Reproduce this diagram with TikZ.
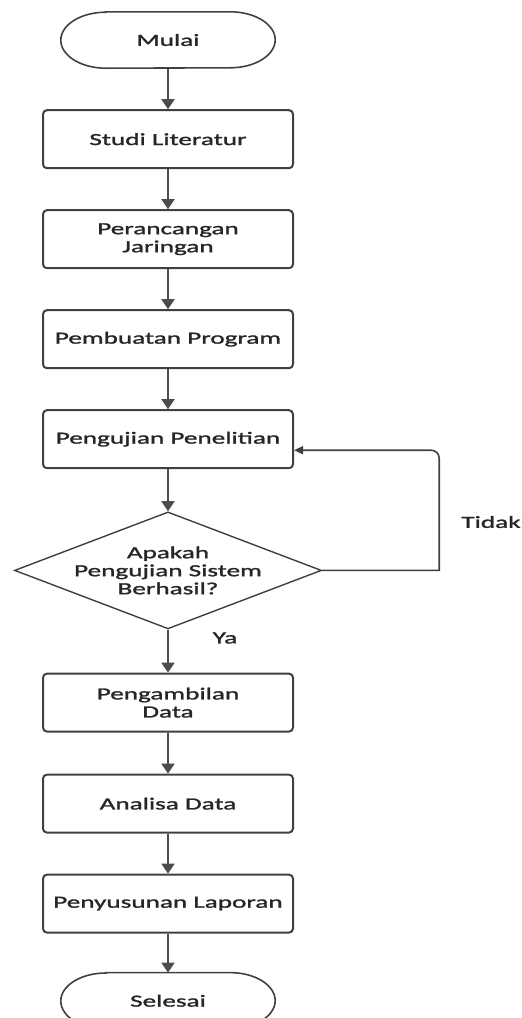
\documentclass[tikz,border=0pt]{standalone}
\usepackage{fontspec}
\setmainfont{Carlito}[FakeStretch=1.6,FakeBold=1.5]
\usetikzlibrary{positioning}
\usetikzlibrary{shapes.geometric}
\usetikzlibrary{arrows.meta}

\begin{document}
\begin{tikzpicture}[node distance=40pt,
	every node/.style={font=\fontsize{17}{18}\selectfont, text=black!85},
	proses/.style={rectangle, rounded corners=4pt, draw=black!75, line width=2pt, minimum width=250pt, minimum height=58pt, align=center, inner sep=0pt},
	terminal/.style={minimum width=214pt, minimum height=56pt, inner sep=0pt},
	keputusan/.style={diamond, draw=black!75, line width=1.4pt, aspect=2.62, minimum width=307pt, minimum height=117pt, inner sep=-3pt, align=center},
	garis/.style={draw=black!75, line width=1.6pt},
	panah/.style={draw=black!70, line width=2pt, -{Triangle[width=13pt,length=10pt]}}]
	\useasboundingbox (0,0) rectangle (522pt,-1018pt);
	\node [terminal] (mulai) at (168pt,-40pt) {Mulai};
	\node [proses, below=41pt of mulai] (studi) {Studi Literatur};
	\node [proses, below=of studi] (rancang) {Perancangan\\Jaringan};
	\node [proses, below=of rancang] (program) {Pembuatan Program};
	\node [proses, below=of program] (uji) {Pengujian Penelitian};
	\node [keputusan, below=42pt of uji] (cek) {Apakah\\Pengujian Sistem\\Berhasil?};
	\node [proses, below=43pt of cek] (ambil) {Pengambilan\\Data};
	\node [proses, below=41pt of ambil] (analisa) {Analisa Data};
	\node [proses, below=of analisa] (laporan) {Penyusunan Laporan};
	\node [terminal, below=39pt of laporan] (selesai) {Selesai};
	\foreach \t in {mulai,selesai}
		\draw [garis] ([xshift=45pt]\t.north west) -- ([xshift=-45pt]\t.north east)
			arc [start angle=90, end angle=-90, x radius=45pt, y radius=28pt]
			-- ([xshift=45pt]\t.south west)
			arc [start angle=270, end angle=90, x radius=45pt, y radius=28pt] -- cycle;
	\draw [panah] (mulai) -- (studi);
	\draw [panah] (studi) -- (rancang);
	\draw [panah] (rancang) -- (program);
	\draw [panah] (program) -- (uji);
	\draw [panah] (uji) -- (cek);
	\draw [panah] (cek) -- (ambil);
	\draw [panah] (ambil) -- (analisa);
	\draw [panah] (analisa) -- (laporan);
	\draw [panah] (laporan) -- (selesai);
	% loop kembali jika gagal
	\coordinate (balik) at ([xshift=117pt]cek.east);
	\draw [garis, -{Triangle[width=8pt,length=9pt]}] (cek.east) -- (balik) [rounded corners=8pt] |- ([yshift=-11pt]uji.east);
	\node (tidak) at (491pt,-522pt) {Tidak};
	\node (ya) at (225pt,-638pt) {Ya};
\end{tikzpicture}
\end{document}
